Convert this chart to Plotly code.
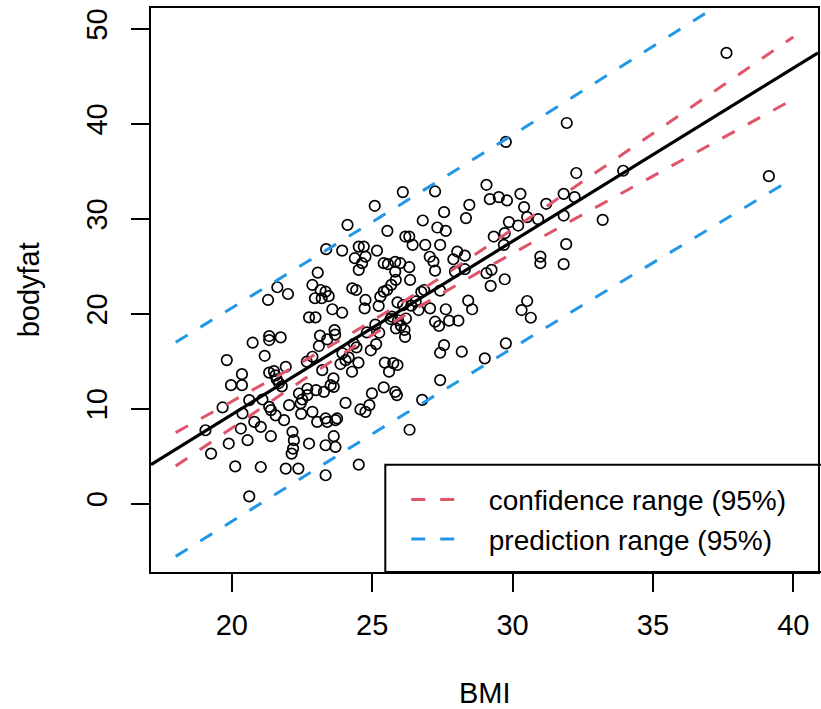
import numpy as np
import plotly.graph_objects as go

# ---- data (BMI vs bodyfat) ----
bmi = [37.62, 39.13, 31.93, 29.76, 33.94, 32.27, 33.21, 31.82, 32.21, 31.20,
       31.82, 31.91, 31.82, 26.09, 25.09, 24.12, 25.54, 26.80, 27.24, 29.07,
       29.19, 29.51, 29.80, 30.28, 30.41, 28.46, 27.56, 28.34, 27.32, 27.62,
       30.52, 30.91, 29.87, 30.20, 29.72, 29.33, 27.42, 28.03, 27.89, 28.30,
       27.05, 27.18, 27.24, 27.95, 28.30, 29.69, 30.99, 30.99, 29.07, 29.25,
       29.22, 29.72, 27.42, 27.06, 27.62, 27.24, 27.38, 27.74, 28.07, 28.42,
       28.56, 30.52, 30.32, 30.65, 27.56, 27.42, 28.19, 29.01, 29.76, 27.42,
       26.44, 26.89, 26.18, 26.32, 26.33, 26.78, 26.85, 26.75,
       23.36, 23.93, 24.52, 24.70, 25.17, 24.38, 24.76, 24.64, 24.52, 25.41,
       25.56, 25.82, 26.00, 26.32, 25.82, 26.35, 25.84, 25.68, 23.06, 22.87,
       23.16, 23.34, 22.96, 23.20, 23.45, 23.58, 23.93, 24.29, 24.43, 24.76,
       24.73, 25.29, 25.41, 25.53, 25.23, 22.75, 22.98, 26.65, 25.65, 25.92,
       26.02, 26.15, 26.20, 25.85, 26.39, 25.90, 26.10, 26.55, 21.62, 22.00,
       21.29,
       23.14, 23.10, 23.40, 23.66, 23.68, 23.94, 24.16, 24.35, 24.44, 24.81,
       24.95, 25.11, 25.14, 25.25, 25.70, 26.17, 22.87, 22.67, 25.45, 25.75,
       25.90, 25.60, 23.87, 24.05, 24.51, 24.28, 23.22, 23.62,
       20.74, 21.33, 21.33, 21.74, 21.17, 19.82,
       20.36, 19.97, 20.36, 21.33, 21.50, 21.55, 21.60, 21.68, 21.78, 21.92,
       22.39, 22.51, 22.69, 23.00, 23.28, 23.52, 23.63, 22.69, 22.45, 19.67,
       19.06, 20.62, 21.09, 21.33, 21.39, 20.38, 20.80, 21.03, 21.39, 20.32,
       20.56, 19.89, 19.26, 21.86, 22.16, 22.21, 22.18, 22.13, 22.75, 20.12,
       21.03, 21.92, 22.37, 20.62, 22.04, 21.56, 22.47,
       24.05, 24.58, 24.76, 24.90, 24.99, 25.41, 25.82, 25.88, 22.87, 23.04,
       23.34, 23.40, 23.69, 23.75, 23.63, 23.69, 23.34, 24.52, 23.34]

bodyfat = [47.47, 34.49, 40.09, 38.09, 35.06, 34.82, 29.89, 32.63, 32.28, 31.58,
           30.34, 27.33, 25.22, 32.81, 31.37, 29.36, 28.73, 29.82, 32.88, 33.58,
           32.07, 32.28, 31.93, 32.63, 31.23, 31.47, 30.70, 30.07, 29.08, 28.73,
           30.18, 29.96, 29.65, 29.29, 28.49, 28.13, 27.25, 26.55, 25.74, 26.12,
           26.00, 25.50, 24.54, 24.44, 24.69, 27.25, 26.02, 25.32, 24.27, 24.62,
           22.93, 23.63, 22.43, 20.57, 20.47, 19.16, 18.71, 19.27, 19.27, 21.38,
           20.47, 21.34, 20.39, 19.58, 16.70, 15.89, 16.00, 15.30, 16.88, 13.01,
           27.25, 27.25, 28.13, 28.13, 7.78, 10.93, 22.50, 22.30,
           26.80, 26.65, 27.07, 27.07, 26.65, 25.85, 26.02, 25.32, 24.62, 25.32,
           25.22, 25.46, 25.32, 24.90, 24.44, 23.56, 23.56, 23.04, 24.33, 23.03,
           22.50, 22.33, 21.63, 21.63, 21.85, 20.47, 20.11, 22.68, 22.50, 21.45,
           20.57, 21.80, 22.33, 22.50, 20.82, 19.62, 19.62, 20.39, 19.44, 19.30,
           18.75, 18.30, 19.50, 18.45, 20.85, 21.20, 20.90, 21.30, 22.79, 22.08,
           21.45,
           17.70, 16.60, 17.30, 18.27, 17.80, 15.84, 15.41, 16.84, 16.46, 18.03,
           16.15, 18.85, 16.80, 18.00, 19.70, 17.56, 15.47, 14.95, 14.85, 14.80,
           14.60, 13.90, 14.70, 15.10, 14.85, 13.89, 14.06, 13.20,
           16.95, 17.65, 17.23, 17.51, 15.57, 15.12,
           13.64, 12.48, 12.48, 13.80, 13.95, 13.50, 13.10, 12.70, 12.35, 14.41,
           11.60, 10.97, 12.10, 11.95, 11.77, 12.48, 12.30, 11.43, 10.55, 10.13,
           7.73, 10.90, 10.97, 10.20, 9.85, 9.50, 8.61, 8.08, 7.10, 7.91,
           6.68, 6.33, 5.27, 8.79, 7.56, 6.68, 5.80, 5.27, 6.33, 3.93,
           3.86, 3.69, 3.69, 0.77, 10.37, 9.30, 9.45,
           10.61, 9.92, 9.67, 10.37, 11.61, 12.24, 11.77, 11.43, 9.67, 8.61,
           8.97, 8.61, 8.79, 8.97, 7.10, 5.97, 6.15, 4.11, 2.99]

x_ticks = [20, 25, 30, 35, 40]
y_ticks = [0, 10, 20, 30, 40, 50]
x_lim = [18, 40]
y_lim = [-5, 50]
band_names = ["confidence range (95%)", "prediction range (95%)"]
band_colors = ["#DF536B", "#2297E6"]
x_title = "BMI"
y_title = "bodyfat"

# ---- linear model bodyfat ~ BMI ----
x = np.array(bmi, dtype=float)
y = np.array(bodyfat, dtype=float)
n = len(x)
xbar = x.mean()
sxx = ((x - xbar) ** 2).sum()
b1 = ((x - xbar) * (y - y.mean())).sum() / sxx
b0 = y.mean() - b1 * xbar
res = y - (b0 + b1 * x)
s2 = (res ** 2).sum() / (n - 2)


def t_quantile_975(df):
    # Cornish-Fisher expansion around the normal 97.5% quantile
    z = 1.959963984540054
    g1 = (z ** 3 + z) / 4
    g2 = (5 * z ** 5 + 16 * z ** 3 + 3 * z) / 96
    g3 = (3 * z ** 7 + 19 * z ** 5 + 17 * z ** 3 - 15 * z) / 384
    return z + g1 / df + g2 / df ** 2 + g3 / df ** 3


tq = t_quantile_975(n - 2)
grid = np.linspace(x_lim[0], x_lim[1], 200)
fit = b0 + b1 * grid
se_conf = np.sqrt(s2 * (1 / n + (grid - xbar) ** 2 / sxx))
se_pred = np.sqrt(s2 * (1 + 1 / n + (grid - xbar) ** 2 / sxx))

xr = [x_lim[0] - 0.04 * (x_lim[1] - x_lim[0]), x_lim[1] + 0.04 * (x_lim[1] - x_lim[0])]
yr = [y_lim[0] - 0.04 * (y_lim[1] - y_lim[0]), y_lim[1] + 0.04 * (y_lim[1] - y_lim[0])]

FONT = "Liberation Sans, Arial, Helvetica, sans-serif"
fig = go.Figure()

fig.add_trace(go.Scatter(x=x, y=y, mode="markers", showlegend=False,
                         marker=dict(symbol="circle-open", size=10.5, color="black",
                                     line=dict(width=1.7, color="black"))))

xfull = np.array(xr)
fig.add_trace(go.Scatter(x=xfull, y=b0 + b1 * xfull, mode="lines", showlegend=False,
                         line=dict(color="black", width=3.2)))

for name, col, se in zip(band_names, band_colors, [se_conf, se_pred]):
    for sgn, show in [(1, True), (-1, False)]:
        fig.add_trace(go.Scatter(x=grid, y=fit + sgn * tq * se, mode="lines",
                                 name="\u00a0\u00a0" + name, showlegend=show,
                                 line=dict(color=col, width=3, dash="14px,15px")))

fig.add_shape(type="rect", xref="paper", yref="paper",
              x0=(386 - 151) / 669, x1=1.01, y0=0, y1=(571.7 - 464.5) / 564,
              line=dict(color="black", width=2), fillcolor="rgba(0,0,0,0)", layer="above")

axis_common = dict(showgrid=False, zeroline=False, showline=True, mirror=True,
                   linecolor="black", linewidth=2, ticks="outside", ticklen=18,
                   tickwidth=2, tickcolor="black",
                   tickfont=dict(family=FONT, size=29, color="black"))

fig.update_layout(
    width=821, height=709,
    margin=dict(l=151, r=1, t=8, b=137),
    plot_bgcolor="white", paper_bgcolor="white",
    xaxis=dict(range=xr, tickvals=x_ticks, ticktext=[str(v) for v in x_ticks],
               ticklabelstandoff=8, **axis_common),
    yaxis=dict(range=yr, tickvals=y_ticks, ticktext=[str(v) for v in y_ticks],
               tickangle=-90, ticklabelstandoff=12, **axis_common),
    legend=dict(x=(407 - 151) / 669, xanchor="left", y=(571.7 - 519) / 564, yanchor="middle",
                bgcolor="rgba(0,0,0,0)", borderwidth=0, itemwidth=57, tracegroupgap=0,
                font=dict(family=FONT, size=28, color="black")),
    annotations=[
        dict(text=x_title, xref="paper", yref="paper", x=0.5, y=-(692.5 - 571.7) / 564,
             xanchor="center", yanchor="middle", showarrow=False,
             font=dict(family=FONT, size=29, color="black")),
        dict(text=y_title, xref="paper", yref="paper", x=-(151 - 29) / 669, y=0.5,
             xanchor="center", yanchor="middle", textangle=-90, showarrow=False,
             font=dict(family=FONT, size=29, color="black")),
    ],
)

fig.write_html("out.html")
